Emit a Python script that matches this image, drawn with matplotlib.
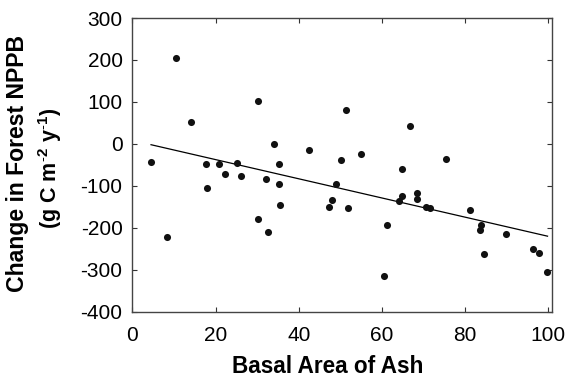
import matplotlib
matplotlib.use("Agg")
import matplotlib.pyplot as plt

plt.rcParams['font.family'] = ['Liberation Sans', 'DejaVu Sans']
plt.rcParams['mathtext.fontset'] = 'custom'
plt.rcParams['mathtext.rm'] = 'Liberation Sans'
plt.rcParams['mathtext.bf'] = 'Liberation Sans:bold'
plt.rcParams['axes.unicode_minus'] = False

# Data
basal_area = [4.4, 8.3, 10.6, 14.0, 17.8, 18.0, 20.8, 22.2, 25.2, 26.2,
              30.1, 30.1, 32.1, 32.6, 34.0, 35.2, 35.2, 35.6, 42.4, 47.2,
              48.1, 49.0, 50.1, 51.4, 51.8, 54.9, 60.4, 61.1, 64.1, 64.9,
              64.9, 66.7, 68.4, 68.4, 70.5, 71.6, 75.3, 81.2, 83.5, 83.7,
              84.5, 89.9, 96.4, 97.8, 99.7]
npp_change = [-43, -222, 205, 52, -47, -104, -49, -72, -46, -77,
              103, -180, -84, -211, -1, -49, -95, -145, -15, -150,
              -134, -95, -38, 80, -152, -24, -316, -194, -136, -125,
              -59, 42, -118, -132, -151, -152, -35, -158, -205, -194,
              -263, -214, -250, -261, -305]
fit_x = [4.5, 99.8]
fit_y = [-2, -220]
x_ticks = [0, 20, 40, 60, 80, 100]
y_ticks = [300, 200, 100, 0, -100, -200, -300, -400]

fig = plt.figure(figsize=(5.66, 3.78), dpi=100)
ax = fig.add_axes([132.3 / 566, 1 - 311.7 / 378,
                   (551.7 - 132.3) / 566, (311.7 - 18.0) / 378])

ax.scatter(basal_area, npp_change, s=26, color='#111111', zorder=3, linewidths=0)
ax.plot(fit_x, fit_y, color='black', lw=0.9, zorder=2)

ax.set_xlim(0, 100.8)
ax.set_ylim(-400, 300)
ax.set_xticks(x_ticks)
ax.set_yticks(y_ticks)
ax.tick_params(direction='in', length=3.6, width=0.8, colors='#333333',
               labelsize=15, top=True, right=True, labelcolor='black')
ax.tick_params(axis='x', pad=10)
ax.tick_params(axis='y', pad=7)
for s in ax.spines.values():
    s.set_color('#444444')
    s.set_linewidth(1.0)

fig.text(328/566, 1 - 373/378, 'Basal Area of Ash', fontsize=16.3,
         fontweight='bold', ha='center', va='baseline')

fig.text(18/566, 1 - 163/378, 'Change in Forest NPPB', rotation=90,
         fontsize=16.6, fontweight='bold', ha='center', va='center')
fig.text(50/566, 1 - 168/378, r'(g C m$^{\mathbf{\text{-}2}}$ y$^{\mathbf{\text{-}1}}$)', rotation=90,
         fontsize=15.5, fontweight='bold', ha='center', va='center')

fig.savefig('out.png', dpi=100)
